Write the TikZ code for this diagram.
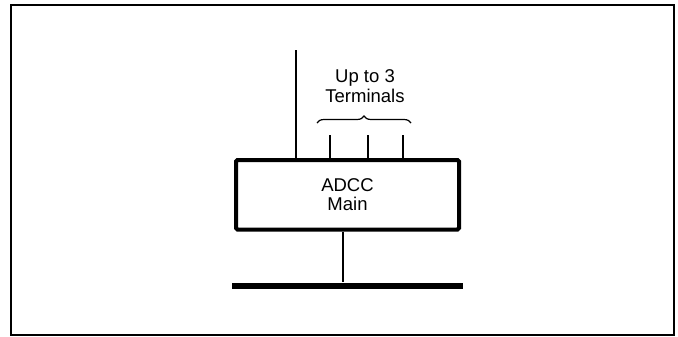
\documentclass[tikz,border=0pt]{standalone}
\usepackage{fontspec}
\setmainfont{Liberation Sans}
\usetikzlibrary{decorations.pathreplacing}
\begin{document}
\begin{tikzpicture}[x=1bp,y=-1bp,
  thinline/.style={line width=1.6bp},
  mainbox/.style={draw,line width=4bp,rounded corners=1.5bp,minimum width=223bp,minimum height=69.5bp,inner sep=0pt,align=center,font=\fontsize{18.5bp}{19bp}\selectfont},
  busbar/.style={fill=black,minimum width=231bp,minimum height=6bp,inner sep=0pt},
  label/.style={align=center,font=\fontsize{18.5bp}{20bp}\selectfont,inner sep=0pt}]
\useasboundingbox (0,0) rectangle (678,336);
\draw[line width=1.5bp] (11,5) rectangle (674,335);
\node[mainbox] (main) at (347.5,194.75) {ADCC\\Main};
\node[busbar] (bus) at (347.5,285.5) {};
\coordinate (ext) at (296,50);
\coordinate (t1) at (330,135);
\coordinate (t2) at (368,135);
\coordinate (t3) at (403,135);
\draw[thinline] (ext) -- (ext |- main.north);
\draw[thinline] (t1) -- (t1 |- main.north);
\draw[thinline] (t2) -- (t2 |- main.north);
\draw[thinline] (t3) -- (t3 |- main.north);
\draw[thinline] (main.south -| 343,0) -- (bus.north -| 343,0);
\node[label] (term) at (365,86) {Up to 3\\Terminals};
\coordinate (bl) at (317,123);
\coordinate (br) at (411,123);
\draw[line width=1.2bp,decorate,decoration={brace,amplitude=7bp}] (bl) -- (br);
\end{tikzpicture}
\end{document}
